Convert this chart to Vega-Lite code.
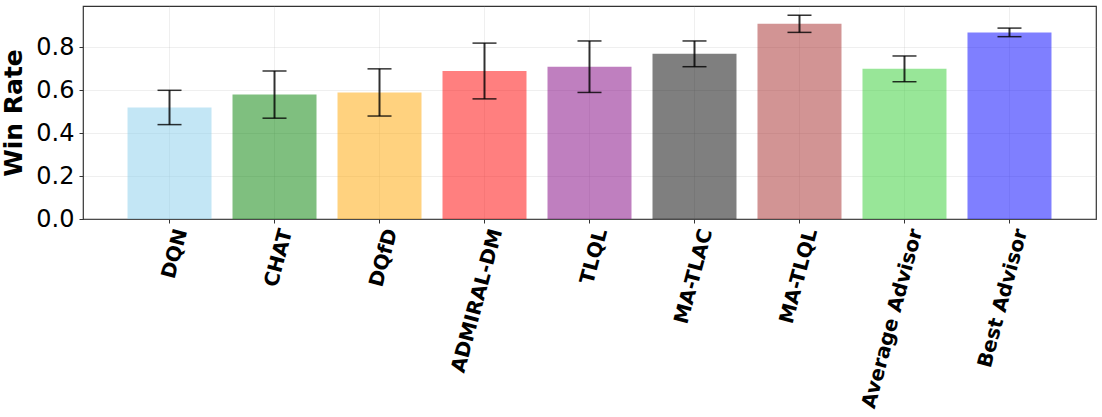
{
  "$schema": "https://vega.github.io/schema/vega-lite/v6.json",
  "autosize": {"type": "none"},
  "padding": {"left": 83, "top": 6, "right": 6, "bottom": 198},
  "width": 1013,
  "height": 213,
  "config": {
    "font": "DejaVu Sans",
    "view": {"stroke": "#333333", "strokeWidth": 1.2},
    "axis": {
      "domain": false,
      "grid": true,
      "gridColor": "#b0b0b0",
      "gridOpacity": 0.25,
      "gridWidth": 0.8,
      "tickColor": "#333333",
      "tickSize": 4,
      "tickWidth": 1,
      "labelColor": "#000000",
      "titleColor": "#000000"
    }
  },
  "data": {
    "values": [
      {"method": "DQN", "rate": 0.52, "lower": 0.44, "upper": 0.60},
      {"method": "CHAT", "rate": 0.58, "lower": 0.47, "upper": 0.69},
      {"method": "DQfD", "rate": 0.59, "lower": 0.48, "upper": 0.70},
      {"method": "ADMIRAL-DM", "rate": 0.69, "lower": 0.56, "upper": 0.82},
      {"method": "TLQL", "rate": 0.71, "lower": 0.59, "upper": 0.83},
      {"method": "MA-TLAC", "rate": 0.77, "lower": 0.71, "upper": 0.83},
      {"method": "MA-TLQL", "rate": 0.91, "lower": 0.87, "upper": 0.95},
      {"method": "Average Advisor", "rate": 0.70, "lower": 0.64, "upper": 0.76},
      {"method": "Best Advisor", "rate": 0.87, "lower": 0.85, "upper": 0.89}
    ]
  },
  "encoding": {
    "x": {
      "field": "method",
      "type": "nominal",
      "sort": null,
      "scale": {"paddingInner": 0.2, "paddingOuter": 0.424},
      "axis": {
        "title": null,
        "labelAngle": -75,
        "labelAlign": "right",
        "labelBaseline": "middle",
        "labelFontSize": 20,
        "labelFontWeight": "bold",
        "labelPadding": 6,
        "labelOffset": 12,
        "labelLimit": 400
      }
    }
  },
  "layer": [
    {
      "mark": {"type": "bar", "fillOpacity": 0.5},
      "encoding": {
        "y": {
          "field": "rate",
          "type": "quantitative",
          "scale": {"domain": [0, 0.993], "nice": false, "zero": true},
          "axis": {
            "title": "Win Rate",
            "titleFontSize": 25,
            "titleFontWeight": "bold",
            "titlePadding": 9,
            "values": [0, 0.2, 0.4, 0.6, 0.8],
            "format": ".1f",
            "labelFontSize": 24,
            "labelPadding": 5
          }
        },
        "color": {
          "field": "method",
          "type": "nominal",
          "legend": null,
          "scale": {
            "domain": ["DQN", "CHAT", "DQfD", "ADMIRAL-DM", "TLQL", "MA-TLAC", "MA-TLQL", "Average Advisor", "Best Advisor"],
            "range": ["#87CEEB", "#008000", "#FFA500", "#FF0000", "#800080", "#000000", "#A52A2A", "#32CD32", "#0000FF"]
          }
        }
      }
    },
    {
      "mark": {"type": "rule", "color": "#000000", "opacity": 0.8, "strokeWidth": 2},
      "encoding": {
        "y": {"field": "lower", "type": "quantitative"},
        "y2": {"field": "upper"}
      }
    },
    {
      "mark": {"type": "tick", "color": "#000000", "opacity": 0.8, "size": 24, "thickness": 1.5},
      "encoding": {
        "y": {"field": "lower", "type": "quantitative"}
      }
    },
    {
      "mark": {"type": "tick", "color": "#000000", "opacity": 0.8, "size": 24, "thickness": 1.5},
      "encoding": {
        "y": {"field": "upper", "type": "quantitative"}
      }
    }
  ]
}
